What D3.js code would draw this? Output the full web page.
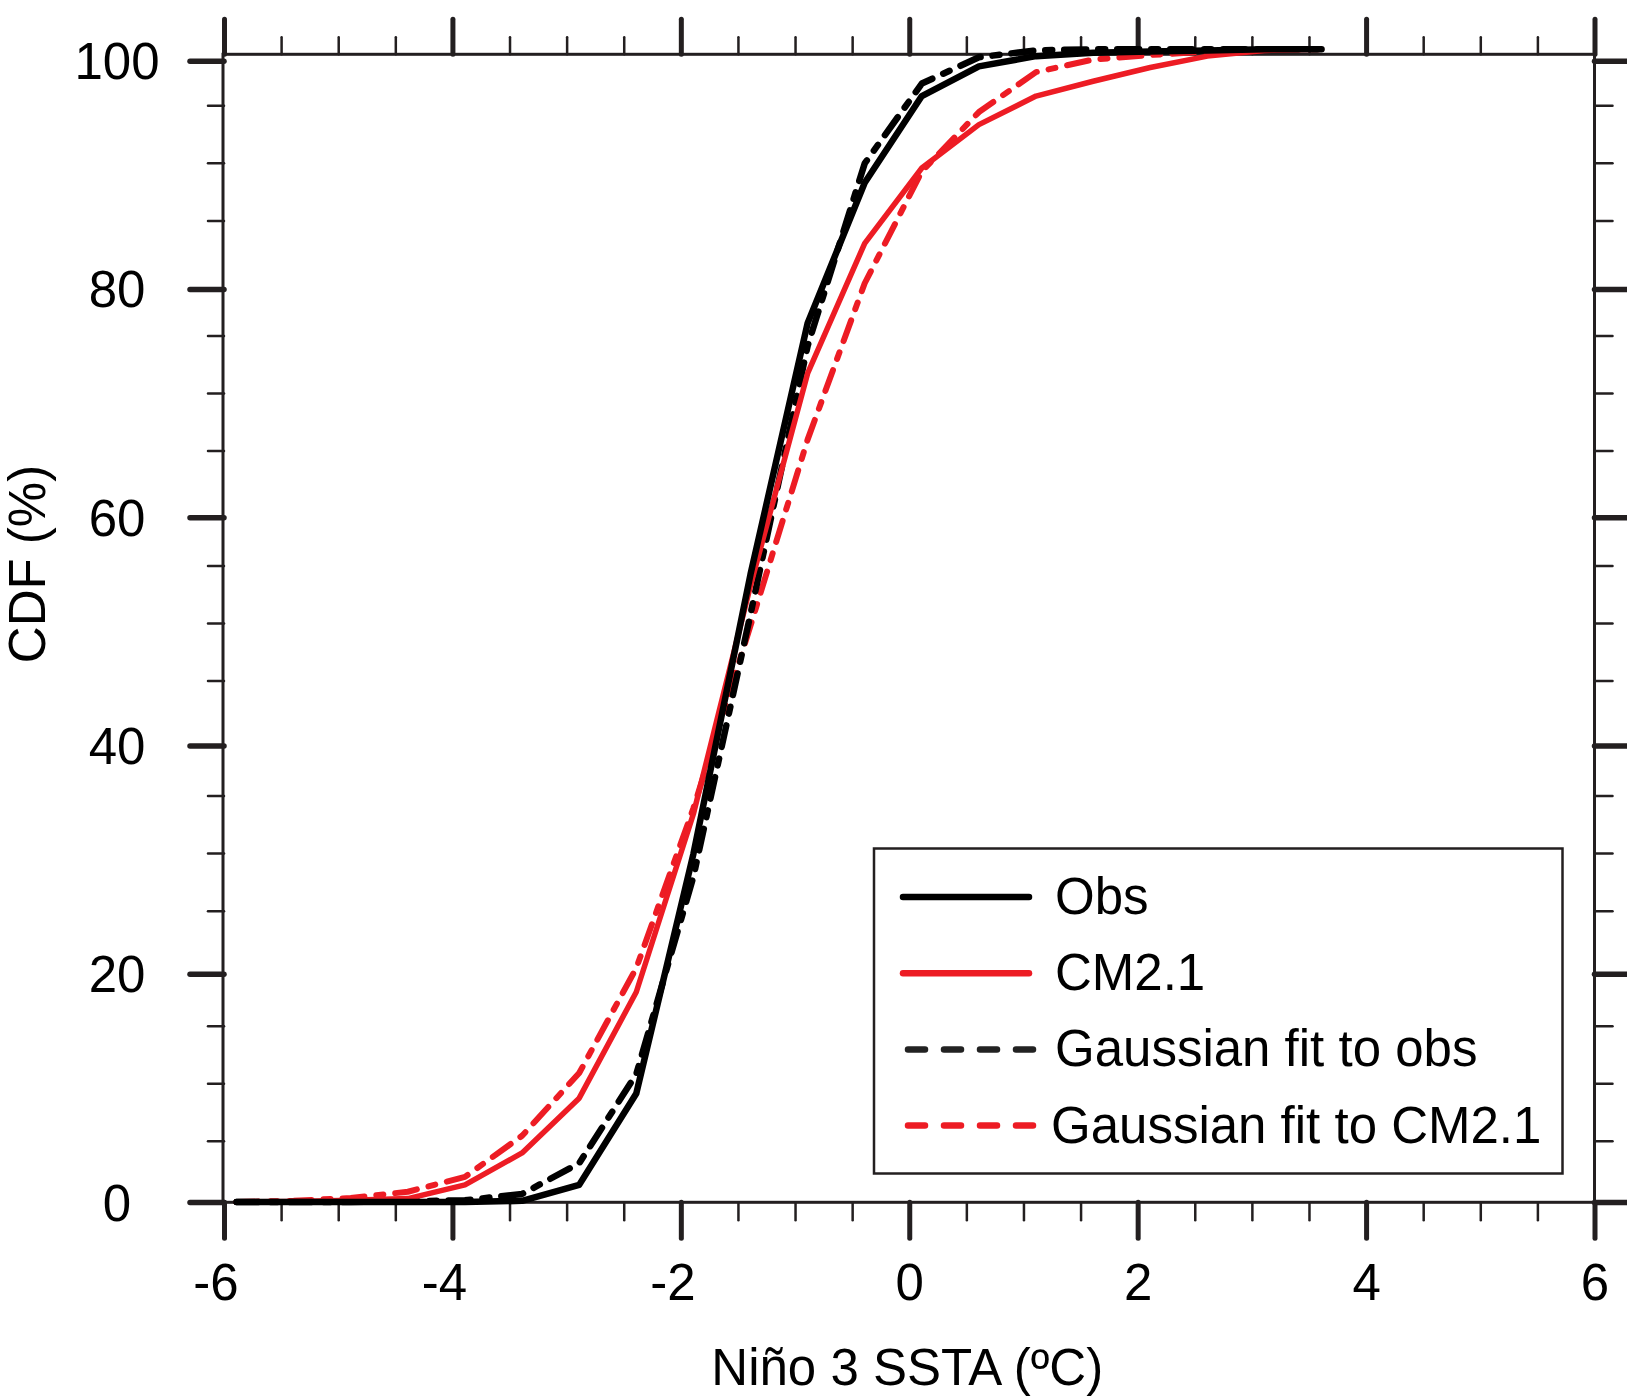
<!DOCTYPE html>
<html>
<head>
<meta charset="utf-8">
<script src="https://cdn.jsdelivr.net/npm/d3@7"></script>
<style>
  body { margin: 0; background: #fff; }
  svg { display: block; font-family: "Liberation Sans", Arial, Helvetica, sans-serif; }
</style>
</head>
<body>
<div id="chart"></div>
<script>
// Nino 3 SSTA bins (deg C)
var xValues = [-5.89, -5.39, -4.89, -4.39, -3.89, -3.39, -2.89, -2.39, -1.89, -1.39,
  -0.89, -0.39, 0.11, 0.61, 1.11, 1.61, 2.11, 2.61, 3.11, 3.61]

// CDF (%) per series
var obsCdf = [0, 0, 0, 0, 0, 0.1, 1.5, 9.5, 30.5, 55, 77, 89.3, 96.9, 99.5, 100.4, 100.7, 100.8, 100.9, 101, 101]
var cm21Cdf = [0, 0.05, 0.15, 0.3, 1.5, 4.3, 9.1, 18.4, 34, 54, 72.6, 84, 90.6, 94.4, 96.9, 98.2, 99.4, 100.4, 100.9, 101]
var obsFitCdf = [0, 0, 0, 0.05, 0.15, 0.7, 3.4, 11.2, 28.5, 51.5, 75, 91, 98, 100.3, 100.9, 101, 101, 101, 101, 101]
var cm21FitCdf = [0, 0.1, 0.35, 0.9, 2.2, 5.8, 11.3, 20.5, 34.5, 50.5, 66.8, 80.5, 90.3, 95.5, 99, 100.1, 100.5, 100.8, 101, 101]

var xMajorTicks = [-6, -4, -2, 0, 2, 4, 6]
var xMinorTicks = [-5.5, -5, -4.5, -3.5, -3, -2.5, -1.5, -1, -0.5, 0.5, 1, 1.5, 2.5, 3, 3.5, 4.5, 5, 5.5]
var yMajorTicks = [0, 20, 40, 60, 80, 100]
var yMinorTicks = [5.37, 10.41, 15.45, 25.53, 30.57, 35.61, 45.69, 50.73, 55.77, 65.85, 70.89, 75.93, 86.0, 91.05, 96.1]

var seriesNames = ['Obs', 'CM2.1', 'Gaussian fit to obs', 'Gaussian fit to CM2.1']

var RED = '#ed1c24'
var INK = '#231f20'
var W = 1627
var H = 1397
var frameTop = 54.3
var frameBottom = 1202.3

var svg = d3.select('#chart').append('svg')
  .attr('width', W)
  .attr('height', H)

svg.append('rect').attr('width', W).attr('height', H).attr('fill', '#fff')

var x = d3.scaleLinear().domain([-6, 6]).range([224, 1594.5])
var y = d3.scaleLinear().domain([0, 100]).range([1202, 60.7])

// ticks: d3 axes, domain path dropped, frame drawn as a rect
function drawTicks (axis, transform, values, size, width) {
  var g = svg.append('g')
    .attr('transform', transform)
    .call(axis.tickValues(values).tickSize(size).tickFormat(''))
  g.select('.domain').remove()
  g.selectAll('.tick line')
    .attr('stroke', INK)
    .attr('stroke-width', width)
    .attr('stroke-linecap', 'round')
  return g
}

drawTicks(d3.axisBottom(x), 'translate(0,' + frameBottom + ')', xMinorTicks, 18, 2.5)
drawTicks(d3.axisTop(x), 'translate(0,' + frameTop + ')', xMinorTicks, 17, 2.5)
drawTicks(d3.axisLeft(y), 'translate(' + x(-6) + ',0)', yMinorTicks, 16, 2.5)
drawTicks(d3.axisRight(y), 'translate(' + x(6) + ',0)', yMinorTicks, 18, 2.5)

var xBottom = drawTicks(d3.axisBottom(x), 'translate(0,' + frameBottom + ')', xMajorTicks, 36, 5)
drawTicks(d3.axisTop(x), 'translate(0,' + frameTop + ')', xMajorTicks, 35, 5)
var yLeft = drawTicks(d3.axisLeft(y), 'translate(' + x(-6) + ',0)', yMajorTicks, 34, 5.5)
drawTicks(d3.axisRight(y), 'translate(' + x(6) + ',0)', yMajorTicks, 34, 5.5)

// tick labels
xBottom.selectAll('.tick').append('text')
  .attr('y', 98)
  .attr('dx', function (d) { return d < 0 ? '-0.167em' : 0 })
  .attr('text-anchor', 'middle')
  .attr('fill', '#000')
  .style('font-size', '51px')
  .text(function (d) { return d })

yLeft.selectAll('.tick').append('text')
  .attr('x', -107)
  .attr('y', 18)
  .attr('text-anchor', 'middle')
  .attr('fill', '#000')
  .style('font-size', '51px')
  .text(function (d) { return d })

// frame
svg.append('rect')
  .attr('x', x(-6) - 1)
  .attr('y', frameTop)
  .attr('width', x(6) - x(-6) + 1)
  .attr('height', frameBottom - frameTop)
  .attr('fill', 'none')
  .attr('stroke', INK)
  .attr('stroke-width', 3)

// axis titles
svg.append('text')
  .attr('x', (x(-6) + x(6)) / 2 - 2)
  .attr('y', 1385)
  .attr('text-anchor', 'middle')
  .style('font-size', '51px')
  .text('Niño 3 SSTA (ºC)')

svg.append('text')
  .attr('transform', 'translate(45,564) rotate(-90)')
  .attr('text-anchor', 'middle')
  .style('font-size', '51px')
  .text('CDF (%)')

// curves
var line = d3.line()
  .x(function (d) { return x(d[0]) })
  .y(function (d) { return y(d[1]) })

var series = [
  { name: seriesNames[3], values: cm21FitCdf, color: RED, width: 6, dash: '22,12,7,12' },
  { name: seriesNames[2], values: obsFitCdf, color: '#000', width: 6.5, dash: '22,12,7,12' },
  { name: seriesNames[1], values: cm21Cdf, color: RED, width: 5.5, dash: null },
  { name: seriesNames[0], values: obsCdf, color: '#000', width: 6.5, dash: null }
]

svg.append('g').attr('class', 'lines')
  .selectAll('path')
  .data(series)
  .enter().append('path')
  .attr('d', function (d) { return line(d3.zip(xValues, d.values)) })
  .attr('fill', 'none')
  .attr('stroke', function (d) { return d.color })
  .attr('stroke-width', function (d) { return d.width })
  .attr('stroke-dasharray', function (d) { return d.dash })
  .attr('stroke-linecap', 'round')
  .attr('stroke-linejoin', 'round')

// legend
var legendItems = [
  { name: seriesNames[0], color: '#000', dash: null },
  { name: seriesNames[1], color: RED, dash: null },
  { name: seriesNames[2], color: '#222', dash: '17,19' },
  { name: seriesNames[3], color: RED, dash: '17,19' }
]

var legend = svg.append('g').attr('transform', 'translate(874,848.5)')
legend.append('rect')
  .attr('width', 688.5)
  .attr('height', 325)
  .attr('fill', '#fff')
  .attr('stroke', INK)
  .attr('stroke-width', 2.5)

var item = legend.selectAll('.item')
  .data(legendItems)
  .enter().append('g')
  .attr('class', 'item')
  .attr('transform', function (d, i) { return 'translate(0,' + (48.5 + i * 76.2) + ')' })

item.append('line')
  .attr('x1', function (d) { return d.dash ? 34 : 29 })
  .attr('x2', function (d) { return d.dash ? 160 : 155 })
  .attr('stroke', function (d) { return d.color })
  .attr('stroke-width', 6.5)
  .attr('stroke-linecap', 'round')
  .attr('stroke-dasharray', function (d) { return d.dash })

item.append('text')
  .attr('x', function (d, i) { return i === 3 ? 177 : 181 })
  .attr('y', 17)
  .style('font-size', '51px')
  .text(function (d) { return d.name })
</script>
</body>
</html>
